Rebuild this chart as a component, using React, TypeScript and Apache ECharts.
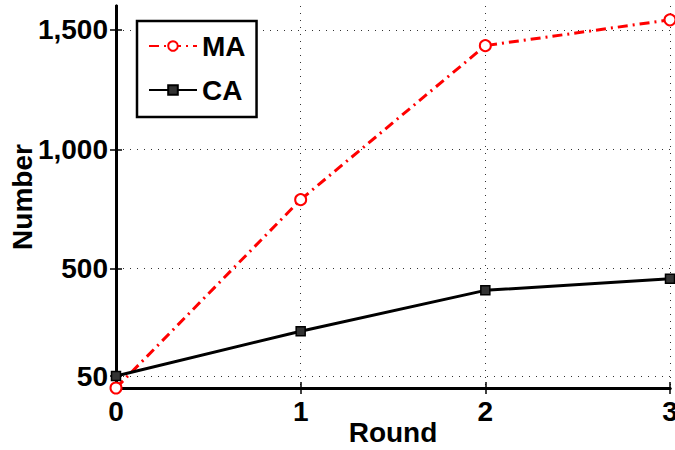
import React, { useEffect, useRef } from "react";
import * as echarts from "echarts";

// Results per round for the two methods
const rounds = [0, 1, 2, 3];
const maValues = [0, 789, 1434, 1542];
const caValues = [50, 238, 409, 458];
const yTickValues = [50, 500, 1000, 1500];
const seriesNames = ["MA", "CA"];

const FONT = "'Liberation Sans', Arial, Helvetica, sans-serif";
const labelFont = { fontFamily: FONT, fontWeight: "bold" as const, fontSize: 28, color: "#000" };
const frameLine = { lineStyle: { color: "#000", width: 3 } };
const innerTick = { inside: true, length: 6, lineStyle: { color: "#000", width: 1.5 } };
const dotted = { show: true, lineStyle: { color: "#333", width: 1, type: [1, 6] as number[] } };

const withThousands = (v: number) => String(v).replace(/\B(?=(\d{3})+(?!\d))/g, ",");

export default function App() {
  const ref = useRef<HTMLDivElement>(null);

  useEffect(() => {
    if (!ref.current) return;
    const chart = echarts.init(ref.current, undefined, { renderer: "svg" });
    chart.setOption({
      animation: false,
      backgroundColor: "#fff",
      grid: { left: 116, right: 5, top: 6, bottom: 62, containLabel: false, outerBoundsMode: "none" },
      legend: {
        orient: "vertical",
        left: 137,
        top: 21,
        padding: [10, 11, 12, 11],
        itemGap: 14,
        itemWidth: 48,
        itemHeight: 12,
        borderColor: "#000",
        borderWidth: 2.5,
        backgroundColor: "#fff",
        textStyle: { ...labelFont, lineHeight: 30 },
        data: seriesNames,
      },
      xAxis: [
        {
          type: "value",
          min: 0,
          max: 3,
          interval: 1,
          position: "bottom",
          axisLine: frameLine,
          axisTick: innerTick,
          axisLabel: { ...labelFont, margin: 9 },
          splitLine: dotted,
          name: "Round",
          nameLocation: "middle",
          nameGap: 30,
          nameMoveOverlap: false,
          nameTextStyle: labelFont,
        },
        {
          type: "value",
          min: 0,
          max: 3,
          interval: 1,
          position: "top",
          axisLine: frameLine,
          axisTick: innerTick,
          axisLabel: { show: false },
          splitLine: { show: false },
        },
      ],
      yAxis: [
        {
          type: "value",
          min: 0,
          max: 1600,
          position: "left",
          axisLine: frameLine,
          axisTick: { ...innerTick, customValues: yTickValues },
          axisLabel: { ...labelFont, margin: 8, customValues: yTickValues, formatter: (v: number) => withThousands(v) },
          splitLine: dotted,
          name: "Number",
          nameLocation: "middle",
          nameGap: 80,
          nameMoveOverlap: false,
          nameTextStyle: labelFont,
        },
        {
          type: "value",
          min: 0,
          max: 1600,
          position: "right",
          axisLine: frameLine,
          axisTick: { ...innerTick, customValues: yTickValues },
          axisLabel: { show: false },
          splitLine: { show: false },
        },
      ],
      series: [
        {
          name: seriesNames[0],
          type: "line",
          data: rounds.map((r, i) => [r, maValues[i]]),
          symbol: "emptyCircle",
          symbolSize: 11,
          lineStyle: { color: "#ff0000", width: 3, type: [10, 5, 2, 5] },
          itemStyle: { color: "#ff0000", borderWidth: 2.5 },
          z: 3,
        },
        {
          name: seriesNames[1],
          type: "line",
          data: rounds.map((r, i) => [r, caValues[i]]),
          symbol: "rect",
          symbolSize: 9,
          lineStyle: { color: "#000", width: 3 },
          itemStyle: { color: "#333", borderColor: "#000", borderWidth: 1.5 },
          z: 4,
        },
      ],
    });
    return () => chart.dispose();
  }, []);

  return <div ref={ref} style={{ position: "fixed", left: 0, top: 0, width: 675, height: 450 }} />;
}
